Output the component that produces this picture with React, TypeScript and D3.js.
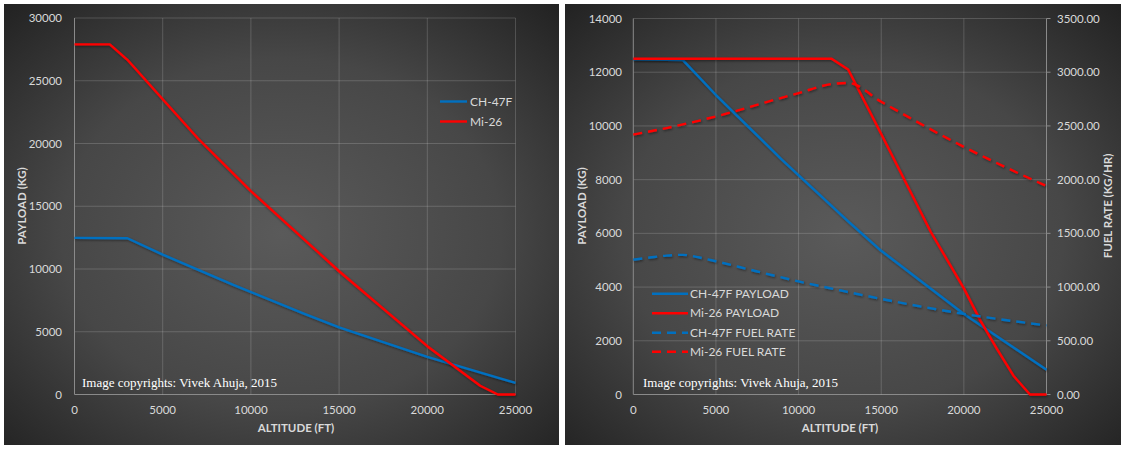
import React from "react";
import * as d3 from "d3";

// ---------- DATA ----------
const altTicks = [0, 5000, 10000, 15000, 20000, 25000];
const leftPayloadTicks = [0, 5000, 10000, 15000, 20000, 25000, 30000];
const rightPayloadTicks = [0, 2000, 4000, 6000, 8000, 10000, 12000, 14000];
const fuelTicks = [0, 500, 1000, 1500, 2000, 2500, 3000, 3500];

// CH-47F payload (kg) vs altitude (ft)
const ch47fAlt = [0, 3000, 5000, 9000, 13000, 15000, 20000, 25000];
const ch47fPayload = [12480, 12450, 11150, 8740, 6450, 5350, 3000, 920];

// Mi-26 max payload (left chart)
const mi26MaxAlt = [0, 2000, 3000, 5000, 7000, 10000, 15000, 20000, 23000, 24000, 25000];
const mi26MaxPayload = [27900, 27900, 26670, 23520, 20400, 16210, 9820, 3850, 700, 0, 0];

// Mi-26 payload (right chart)
const mi26Alt = [0, 12000, 13000, 15000, 18000, 20000, 21000, 22000, 23000, 24000, 25000];
const mi26Payload = [12500, 12500, 12100, 9700, 6050, 3950, 2750, 1700, 700, 0, 0];

// Fuel rates (kg/hr)
const ch47fFuelAlt = [0, 1000, 2000, 3000, 4000, 5000, 7500, 10000, 12500, 15000, 20000, 25000];
const ch47fFuel = [1255, 1275, 1293, 1300, 1275, 1240, 1145, 1053, 970, 890, 750, 643];
const mi26FuelAlt = [0, 2000, 4000, 6000, 8000, 10000, 12000, 13000, 15000, 20000, 25000];
const mi26Fuel = [2420, 2480, 2550, 2630, 2720, 2805, 2890, 2900, 2725, 2305, 1940];

const leftSeries = ["CH-47F", "Mi-26"];
const rightSeries = ["CH-47F PAYLOAD", "Mi-26 PAYLOAD", "CH-47F FUEL RATE", "Mi-26 FUEL RATE"];
const copyright = "Image copyrights: Vivek Ahuja, 2015";

// ---------- STYLE ----------
const BLUE = "#0070C0";
const RED = "#FF0000";
const TXT = "#d9d9d9";
const GRID = "rgba(255,255,255,0.17)";
const AXIS = "#8a8a8a";
const FONT = "Lato, 'Liberation Sans', sans-serif";
const LW = 2.4;
const DASH = "9,6";

const zip = (a: number[], b: number[]) => a.map((v, i) => [v, b[i]] as [number, number]);

function Panel({ x, w, id }: { x: number; w: number; id: string }) {
  return (
    <g>
      <defs>
        <radialGradient id={id} cx="50%" cy="52%" r="72%">
          <stop offset="0%" stopColor="#5a5a5a" />
          <stop offset="55%" stopColor="#474747" />
          <stop offset="100%" stopColor="#222222" />
        </radialGradient>
      </defs>
      <rect x={x} y={4} width={w} height={441} fill={`url(#${id})`} />
    </g>
  );
}

function LeftChart() {
  const x = d3.scaleLinear().domain([0, 25000]).range([74.5, 515.5]);
  const y = d3.scaleLinear().domain([0, 30000]).range([394.5, 18]);
  const line = d3.line<[number, number]>().x((d) => x(d[0])).y((d) => y(d[1]));
  return (
    <g>
      {leftPayloadTicks.map((t) => (
        <line key={"h" + t} x1={x(0)} x2={x(25000)} y1={y(t)} y2={y(t)} stroke={t === 0 ? AXIS : GRID} strokeWidth={1} />
      ))}
      {altTicks.map((t) => (
        <line key={"v" + t} x1={x(t)} x2={x(t)} y1={y(0)} y2={y(30000)} stroke={t === 0 ? AXIS : GRID} strokeWidth={1} />
      ))}
      {leftPayloadTicks.map((t) => (
        <text key={"yl" + t} x={62} y={y(t) + 4} textAnchor="end" fill={TXT} fontSize={11.5} fontFamily={FONT}>
          {t}
        </text>
      ))}
      {altTicks.map((t) => (
        <text key={"xl" + t} x={x(t)} y={413.5} textAnchor="middle" fill={TXT} fontSize={11.5} fontFamily={FONT}>
          {t}
        </text>
      ))}
      <text x={296} y={432} textAnchor="middle" fill={TXT} fontSize={11.5} fontWeight="bold" fontFamily={FONT}>
        ALTITUDE (FT)
      </text>
      <text transform="translate(26,206) rotate(-90)" textAnchor="middle" fill={TXT} fontSize={11.5} fontWeight="bold" fontFamily={FONT}>
        PAYLOAD (KG)
      </text>
      <path d={line(zip(ch47fAlt, ch47fPayload)) || ""} fill="none" stroke={BLUE} strokeWidth={LW} strokeLinejoin="round" filter="url(#shadow)" />
      <path d={line(zip(mi26MaxAlt, mi26MaxPayload)) || ""} fill="none" stroke={RED} strokeWidth={LW} strokeLinejoin="round" filter="url(#shadow)" />
      {leftSeries.map((s, i) => (
        <g key={s}>
          <line x1={440} x2={467} y1={101.5 + i * 20} y2={101.5 + i * 20} stroke={i === 0 ? BLUE : RED} strokeWidth={LW} />
          <text x={470} y={105.5 + i * 20} fill={TXT} fontSize={12} fontFamily={FONT}>
            {s}
          </text>
        </g>
      ))}
      <text x={82} y={387} fill="#ffffff" fontSize={13} fontFamily="'Liberation Serif', 'DejaVu Serif', serif">
        {copyright}
      </text>
    </g>
  );
}

function RightChart() {
  const x = d3.scaleLinear().domain([0, 25000]).range([633.3, 1046.5]);
  const y = d3.scaleLinear().domain([0, 14000]).range([394.5, 18.5]);
  const y2 = d3.scaleLinear().domain([0, 3500]).range([394.5, 18.5]);
  const line = d3.line<[number, number]>().x((d) => x(d[0])).y((d) => y(d[1]));
  const fuelLine = d3
    .line<[number, number]>()
    .x((d) => x(d[0]))
    .y((d) => y2(d[1]))
    .curve(d3.curveMonotoneX);
  const colors = [BLUE, RED, BLUE, RED];
  const legendY = [293.8, 313.3, 332.7, 351.8];
  return (
    <g>
      {rightPayloadTicks.map((t) => (
        <line key={"h" + t} x1={x(0)} x2={x(25000)} y1={y(t)} y2={y(t)} stroke={t === 0 ? AXIS : GRID} strokeWidth={1} />
      ))}
      {altTicks.map((t) => (
        <line key={"v" + t} x1={x(t)} x2={x(t)} y1={y(0)} y2={y(14000)} stroke={t === 0 || t === 25000 ? AXIS : GRID} strokeWidth={1} />
      ))}
      {fuelTicks.map((t) => (
        <line key={"rt" + t} x1={x(25000)} x2={x(25000) + 4} y1={y2(t)} y2={y2(t)} stroke={AXIS} strokeWidth={1} />
      ))}
      {rightPayloadTicks.map((t) => (
        <text key={"yl" + t} x={622} y={y(t) + 4} textAnchor="end" fill={TXT} fontSize={11.5} fontFamily={FONT}>
          {t}
        </text>
      ))}
      {fuelTicks.map((t) => (
        <text key={"y2l" + t} x={1057} y={y2(t) + 4} textAnchor="start" fill={TXT} fontSize={11.5} fontFamily={FONT}>
          {d3.format(".2f")(t)}
        </text>
      ))}
      {altTicks.map((t) => (
        <text key={"xl" + t} x={x(t)} y={413.5} textAnchor="middle" fill={TXT} fontSize={11.5} fontFamily={FONT}>
          {t}
        </text>
      ))}
      <text x={840} y={432} textAnchor="middle" fill={TXT} fontSize={11.5} fontWeight="bold" fontFamily={FONT}>
        ALTITUDE (FT)
      </text>
      <text transform="translate(586,206) rotate(-90)" textAnchor="middle" fill={TXT} fontSize={11.5} fontWeight="bold" fontFamily={FONT}>
        PAYLOAD (KG)
      </text>
      <text transform="translate(1112,206) rotate(-90)" textAnchor="middle" fill={TXT} fontSize={11.5} fontWeight="bold" fontFamily={FONT}>
        FUEL RATE (KG/HR)
      </text>
      <path d={line(zip(ch47fAlt, ch47fPayload)) || ""} fill="none" stroke={BLUE} strokeWidth={LW} strokeLinejoin="round" filter="url(#shadow)" />
      <path d={line(zip(mi26Alt, mi26Payload)) || ""} fill="none" stroke={RED} strokeWidth={LW} strokeLinejoin="round" filter="url(#shadow)" />
      <path d={fuelLine(zip(ch47fFuelAlt, ch47fFuel)) || ""} fill="none" stroke={BLUE} strokeWidth={LW} strokeDasharray={DASH} filter="url(#shadow)" />
      <path d={fuelLine(zip(mi26FuelAlt, mi26Fuel)) || ""} fill="none" stroke={RED} strokeWidth={LW} strokeDasharray={DASH} filter="url(#shadow)" />
      {rightSeries.map((s, i) => (
        <g key={s}>
          <line x1={652} x2={688} y1={legendY[i]} y2={legendY[i]} stroke={colors[i]} strokeWidth={LW} strokeDasharray={i >= 2 ? DASH : undefined} />
          <text x={690} y={legendY[i] + 4} fill={TXT} fontSize={12} fontFamily={FONT}>
            {s}
          </text>
        </g>
      ))}
      <text x={643} y={387} fill="#ffffff" fontSize={13} fontFamily="'Liberation Serif', 'DejaVu Serif', serif">
        {copyright}
      </text>
    </g>
  );
}

export default function App() {
  return (
    <div style={{ position: "absolute", left: 0, top: 0, background: "#ffffff" }}>
      <svg width={1124} height={450} style={{ display: "block" }}>
        <defs>
          <filter id="shadow" x="-5%" y="-5%" width="110%" height="110%">
            <feDropShadow dx="0.8" dy="1.2" stdDeviation="0.8" floodColor="#000000" floodOpacity="0.45" />
          </filter>
        </defs>
        <rect x={0} y={0} width={1124} height={450} fill="#ffffff" />
        <Panel x={4} w={555} id="bgL" />
        <Panel x={565} w={556} id="bgR" />
        <LeftChart />
        <RightChart />
      </svg>
    </div>
  );
}
